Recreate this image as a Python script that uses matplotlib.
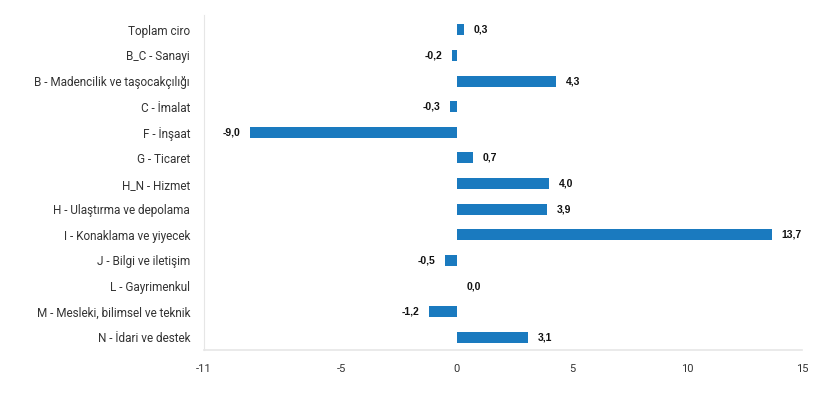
import matplotlib.pyplot as plt

# Sectoral turnover change (%)
categories = [
    'Toplam ciro',
    'B_C - Sanayi',
    'B - Madencilik ve taşocakçılığı',
    'C - İmalat',
    'F - İnşaat',
    'G - Ticaret',
    'H_N - Hizmet',
    'H - Ulaştırma ve depolama',
    'I - Konaklama ve yiyecek',
    'J - Bilgi ve iletişim',
    'L - Gayrimenkul',
    'M - Mesleki, bilimsel ve teknik',
    'N - İdari ve destek',
]
values = [0.3, -0.2, 4.3, -0.3, -9.0, 0.7, 4.0, 3.9, 13.7, -0.5, 0.0, -1.2, 3.1]
x_ticks = [-11, -5, 0, 5, 10, 15]

plt.rcParams['font.family'] = ['Roboto', 'DejaVu Sans']
plt.rcParams['axes.unicode_minus'] = False

fig = plt.figure(figsize=(8.37, 3.93), dpi=100)
ax = fig.add_axes([0.2437, 0.109, 0.7143, 0.853])

pos = list(range(len(categories)))
ax.barh(pos, values, height=0.43, color='#1a7abf', linewidth=0)

# value labels next to bar ends
for p, v in zip(pos, values):
    txt = f'{v:.1f}'.replace('.', ',')
    if v < 0:
        ax.annotate(txt, (v, p), xytext=(-7, 0), textcoords='offset points',
                    ha='right', va='center', fontsize=7.5, fontweight='bold',
                    color='#111111', family='Liberation Sans')
    else:
        ax.annotate(txt, (v, p), xytext=(7, 0), textcoords='offset points',
                    ha='left', va='center', fontsize=7.5, fontweight='bold',
                    color='#111111', family='Liberation Sans')

ax.set_xlim(-11, 15)
ax.set_xticks(x_ticks)
ax.set_ylim(len(categories) - 0.5, -0.58)
ax.set_yticks(pos)
ax.set_yticklabels(categories)

ax.tick_params(axis='x', length=0, pad=10, labelsize=8, labelcolor='#333333')
ax.tick_params(axis='y', length=0, pad=10, labelsize=8.5, labelcolor='#333333')

for side in ['top', 'right']:
    ax.spines[side].set_visible(False)
ax.spines['left'].set_color('#e6e6e6')
ax.spines['bottom'].set_color('#e6e6e6')
ax.spines['bottom'].set_linewidth(1.2)

fig.savefig('out.png', dpi=100)
